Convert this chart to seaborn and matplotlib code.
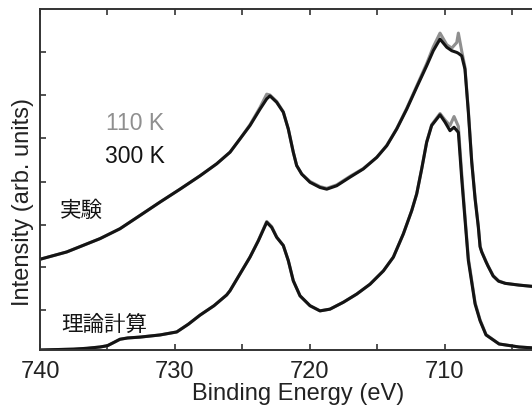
import matplotlib
matplotlib.use("Agg")
import matplotlib.pyplot as plt
import seaborn as sns

# ---- data ----
exp_energy = [740.00, 738.02, 735.55, 734.07, 732.58, 731.10, 729.62, 728.14, 726.90,
              725.91, 725.17, 724.43, 723.69, 723.19, 722.95, 722.45, 721.96, 721.59,
              721.22, 720.97, 720.59, 719.98, 719.24, 718.74, 718.00, 717.01, 716.03,
              715.03, 714.29, 713.55, 712.81, 712.07, 711.33, 710.84, 710.34, 709.84,
              709.47, 709.10, 708.98, 708.73, 708.49, 708.24, 707.99, 707.74, 707.50,
              707.37, 707.25, 706.93, 706.78, 706.40, 706.00, 705.50, 704.50, 703.52]
exp_300K = [2.11, 2.28, 2.59, 2.82, 3.13, 3.44, 3.74, 4.05, 4.33,
            4.60, 4.91, 5.22, 5.60, 5.84, 5.91, 5.76, 5.53, 5.14,
            4.60, 4.29, 4.09, 3.90, 3.78, 3.74, 3.82, 4.02, 4.21,
            4.48, 4.75, 5.14, 5.60, 6.11, 6.61, 6.96, 7.23, 7.04,
            6.96, 6.92, 6.90, 6.84, 6.53, 5.53, 4.37, 3.51, 2.86,
            2.40, 2.28, 2.05, 1.95, 1.72, 1.60, 1.55, 1.51, 1.48]
exp_110K = [2.11, 2.28, 2.59, 2.82, 3.13, 3.44, 3.74, 4.05, 4.33,
            4.60, 4.91, 5.24, 5.64, 5.95, 5.93, 5.78, 5.54, 5.14,
            4.60, 4.29, 4.09, 3.92, 3.80, 3.76, 3.84, 4.04, 4.22,
            4.48, 4.76, 5.15, 5.62, 6.14, 6.66, 7.05, 7.37, 7.10,
            7.02, 7.15, 7.37, 6.95, 6.58, 5.58, 4.40, 3.55, 2.88,
            2.42, 2.29, 2.06, 1.96, 1.73, 1.61, 1.55, 1.51, 1.48]

calc_energy = [740.00, 737.50, 736.50, 735.55, 735.00, 734.50, 734.07, 733.50, 732.58,
               731.10, 729.86, 729.00, 728.14, 727.10, 726.16, 725.91, 725.17, 724.43,
               723.81, 723.19, 722.82, 722.45, 721.96, 721.59, 721.22, 720.72, 719.98,
               719.24, 718.50, 717.51, 716.52, 715.53, 714.54, 713.80, 713.06, 712.44,
               712.07, 711.70, 711.33, 710.96, 710.34, 709.97, 709.60, 709.30, 708.98,
               708.73, 708.61, 708.24, 707.74, 707.37, 706.93, 705.96, 704.48, 703.52]
calc_300K = [0.00, 0.02, 0.04, 0.07, 0.10, 0.18, 0.25, 0.28, 0.30,
             0.35, 0.42, 0.60, 0.81, 1.03, 1.28, 1.38, 1.77, 2.16,
             2.54, 2.97, 2.85, 2.62, 2.43, 2.08, 1.61, 1.26, 1.03,
             0.91, 0.95, 1.11, 1.30, 1.53, 1.84, 2.16, 2.70, 3.24,
             3.63, 4.21, 4.83, 5.22, 5.47, 5.30, 5.10, 5.18, 5.06,
             3.98, 3.51, 2.08, 1.07, 0.68, 0.35, 0.14, 0.07, 0.05]
calc_110K = [0.00, 0.02, 0.04, 0.07, 0.10, 0.18, 0.25, 0.28, 0.30,
             0.35, 0.42, 0.60, 0.81, 1.03, 1.28, 1.38, 1.77, 2.16,
             2.55, 2.99, 2.87, 2.63, 2.43, 2.08, 1.61, 1.26, 1.03,
             0.91, 0.95, 1.11, 1.30, 1.53, 1.84, 2.16, 2.70, 3.24,
             3.63, 4.21, 4.84, 5.24, 5.50, 5.35, 5.22, 5.43, 5.20,
             4.10, 3.60, 2.14, 1.10, 0.70, 0.36, 0.14, 0.07, 0.05]

x_ticks = [740, 735, 730, 725, 720, 715, 710, 705]
x_tick_labels = ["740", "", "730", "", "720", "", "710", ""]
y_ticks = [0.93, 1.93, 2.91, 3.91, 4.92, 5.92, 6.93]

sns.set_theme(style="ticks")
plt.rcParams['font.family'] = ['Liberation Sans', 'Noto Sans CJK JP', 'DejaVu Sans']

fig = plt.figure(figsize=(5.32, 4.06), dpi=100)
ax = fig.add_axes([40/532, 55/406, 1 - 40/532, 341/406])

gray = "#8f8f8f"
black = "#141414"
lw = 2.2
kw = dict(estimator=None, sort=False, solid_joinstyle="round", solid_capstyle="round")
sns.lineplot(x=exp_energy, y=exp_110K, ax=ax, color=gray, lw=lw, **kw)
sns.lineplot(x=exp_energy, y=exp_300K, ax=ax, color=black, lw=lw, **kw)
sns.lineplot(x=calc_energy, y=calc_110K, ax=ax, color=gray, lw=lw, **kw)
sns.lineplot(x=calc_energy, y=calc_300K, ax=ax, color=black, lw=lw, **kw)

ax.set_xlim(740, 703.52)
ax.set_ylim(0, 341/43)

ax.set_xticks(x_ticks)
ax.set_xticklabels(x_tick_labels)
ax.set_yticks(y_ticks)
ax.set_yticklabels([])
ax.tick_params(axis="both", direction="in", length=4, width=1.2, color="#333333",
               labelsize=17, pad=7, labelcolor="#222222")
ax.tick_params(axis="x", top=True, labeltop=False)

for side in ["left", "top", "bottom"]:
    ax.spines[side].set_color("#333333")
    ax.spines[side].set_linewidth(1.4)
ax.spines["right"].set_visible(False)

ax.set_xlabel("Binding Energy (eV)", fontsize=17, color="#222222")
ax.set_ylabel("Intensity (arb. units)", fontsize=17, color="#222222")
ax.xaxis.set_label_coords((298 - 40) / 492, -0.093)
ax.yaxis.set_label_coords(-0.012, (351 - 202) / 341)

def px(xp, yp):
    return (xp - 40) / 492, (351 - yp) / 341

ax.text(*px(135, 124), "110 K", transform=ax.transAxes, fontsize=16.5,
        color=gray, ha="center", va="center")
ax.text(*px(135, 157), "300 K", transform=ax.transAxes, fontsize=16.5,
        color=black, ha="center", va="center")
ax.text(*px(81, 211), "実験", transform=ax.transAxes, fontsize=15.5,
        color=black, ha="center", va="center", family=['Noto Sans CJK JP'])
ax.text(*px(104, 325), "理論計算", transform=ax.transAxes, fontsize=15.5,
        color=black, ha="center", va="center", family=['Noto Sans CJK JP'])

fig.savefig("out.png", dpi=100)
